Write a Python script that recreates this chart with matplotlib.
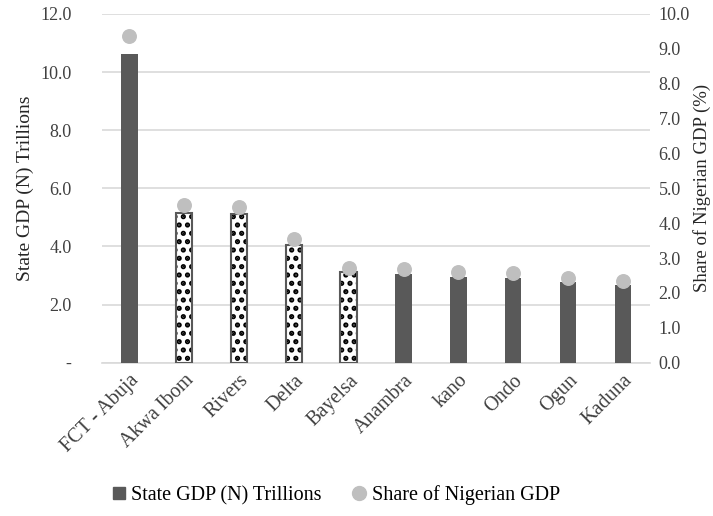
import matplotlib.pyplot as plt
from matplotlib.lines import Line2D
from matplotlib.ticker import FuncFormatter
import numpy as np

plt.rcParams['font.family'] = ['Liberation Serif', 'DejaVu Serif']
plt.rcParams['hatch.linewidth'] = 2.5

states = ["FCT - Abuja", "Akwa Ibom", "Rivers", "Delta", "Bayelsa",
          "Anambra", "kano", "Ondo", "Ogun", "Kaduna"]
gdp_trillions = [10.63, 5.15, 5.12, 4.04, 3.13, 3.05, 2.95, 2.92, 2.78, 2.68]
share_pct = [9.36, 4.52, 4.47, 3.55, 2.73, 2.68, 2.61, 2.56, 2.44, 2.33]
# oil producing states are drawn with the dotted pattern
oil_states = ["Akwa Ibom", "Rivers", "Delta", "Bayelsa"]

bar_col = "#595959"
dot_col = "#bfbfbf"
grid_col = "#d9d9d9"

fig = plt.figure(figsize=(7.13, 5.16), dpi=100)
ax = fig.add_axes([0.143, 0.297, 0.769, 0.676])
ax2 = ax.twinx()

x = np.arange(len(states))
for i, s in enumerate(states):
    if s in oil_states:
        # dotted fill first, then the grey outline on top
        ax.bar(x[i], gdp_trillions[i], width=0.3, facecolor="white",
               edgecolor="black", hatch="..", linewidth=0, zorder=3)
        ax.bar(x[i], gdp_trillions[i], width=0.3, fill=False,
               edgecolor=bar_col, linewidth=1.5, zorder=3)
    else:
        ax.bar(x[i], gdp_trillions[i], width=0.3, color=bar_col, zorder=3)

ax2.scatter(x, share_pct, s=95, color=dot_col, zorder=4)

ax.set_ylim(0, 12)
ax.set_yticks(np.arange(0, 12.1, 2))
ax.yaxis.set_major_formatter(FuncFormatter(lambda v, p: "-" if v == 0 else f"{v:.1f}"))
ax2.set_ylim(0, 10)
ax2.set_yticks(np.arange(0, 10.1, 1))
ax2.yaxis.set_major_formatter(FuncFormatter(lambda v, p: f"{v:.1f}"))
ax.set_xlim(-0.5, len(states) - 0.5)

ax.set_xticks(x)
ax.set_xticklabels(states, rotation=45, ha="right", rotation_mode="anchor")
ax.grid(axis="y", color=grid_col, linewidth=1.2, zorder=0)
ax.set_axisbelow(True)

for a in (ax, ax2):
    for sp in a.spines.values():
        sp.set_visible(False)
    a.tick_params(length=0, labelsize=13, colors="#404040")
ax.spines["bottom"].set_visible(True)
ax.spines["bottom"].set_color(grid_col)
ax.spines["bottom"].set_linewidth(1.2)
ax.tick_params(axis="y", pad=22)
ax.tick_params(axis="x", pad=6, labelsize=14.5)
ax2.tick_params(axis="y", pad=6)

ax.set_ylabel("State GDP (N) Trillions", fontsize=14, color="#262626")
ax2.set_ylabel("Share of Nigerian GDP (%)", fontsize=13.5, color="#262626", labelpad=2)

handles = [Line2D([], [], marker="s", linestyle="none", color=bar_col, markersize=9),
           Line2D([], [], marker="o", linestyle="none", color=dot_col, markersize=10)]
fig.legend(handles, ["State GDP (N) Trillions", "Share of Nigerian GDP"],
           loc="center", bbox_to_anchor=(0.47, 0.04), ncol=2, frameon=False,
           fontsize=14.5, handlelength=0.8, handletextpad=0.2, columnspacing=1.5)

fig.savefig("out.png", dpi=100)
